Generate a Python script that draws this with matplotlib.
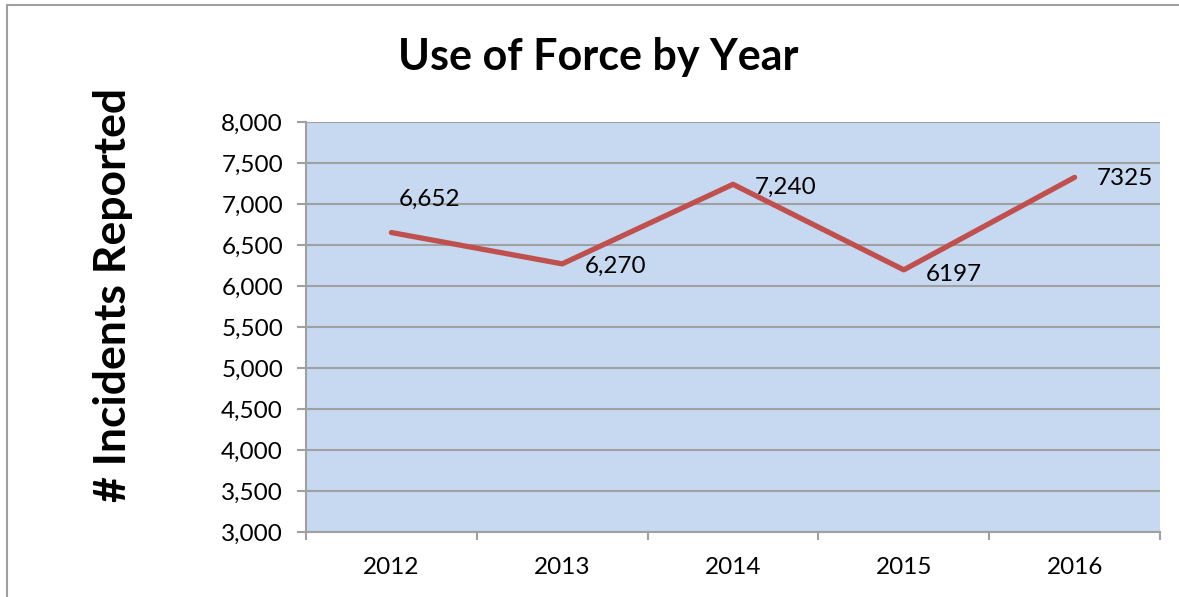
import matplotlib.pyplot as plt
from matplotlib.patches import Rectangle
from matplotlib.ticker import FuncFormatter, FixedLocator

years = ['2012', '2013', '2014', '2015', '2016']
incidents = [6652, 6270, 7240, 6197, 7325]
point_labels = ['6,652', '6,270', '7,240', '6197', '7325']

plt.rcParams['font.family'] = ['Lato', 'DejaVu Sans']

fig = plt.figure(figsize=(11.79, 5.97), dpi=100)
ax = fig.add_axes([306 / 1179, 65 / 597, 854 / 1179, 410 / 597])

# outer chart border (cut off at right/bottom like the screenshot)
fig.patches.append(Rectangle((7 / 1179, -0.1), 1.2, 1 - 5 / 597 + 0.1,
                             transform=fig.transFigure, fill=False,
                             edgecolor='#a0a0a0', linewidth=1.5))

ax.set_facecolor('#c6d9f1')
x = list(range(len(years)))
ax.plot(x, incidents, color='#c0504d', linewidth=3.8, solid_capstyle='round',
        zorder=3)

# data labels
offsets = [(5, 24), (16, -2), (16, -2), (16, -3), (16, -1)]
for xi, yi, lab, off in zip(x, incidents, point_labels, offsets):
    ax.annotate(lab, (xi, yi), xytext=off, textcoords='offset points',
                ha='left', va='center', fontsize=17.5, color='black')

ax.set_xlim(-0.5, len(years) - 0.5)
ax.set_ylim(3000, 8000)
ax.set_yticks(range(3000, 8001, 500))
ax.yaxis.set_major_formatter(FuncFormatter(lambda v, p: f'{int(v):,}'))
ax.set_xticks(x)
ax.set_xticklabels(years)
ax.xaxis.set_minor_locator(FixedLocator([i - 0.5 for i in range(len(years) + 1)]))

ax.tick_params(axis='x', which='major', length=0, pad=18, labelsize=17.5)
ax.tick_params(axis='x', which='minor', length=6, width=1.5, color='#a0a0a0')
ax.tick_params(axis='y', length=6.5, width=1.5, color='#a0a0a0', pad=10,
               labelsize=17.5)

ax.grid(axis='y', color='#a0a0a0', linewidth=1.5)
ax.set_axisbelow(True)
for side in ['top', 'right']:
    ax.spines[side].set_visible(False)
for side in ['left', 'bottom']:
    ax.spines[side].set_color('#a0a0a0')
    ax.spines[side].set_linewidth(1.5)

fig.text(598 / 1179, 1 - 57 / 597, 'Use of Force by Year', ha='center',
         va='center', fontsize=31, fontweight='bold')
fig.text(113 / 1179, 1 - 295 / 597, '# Incidents Reported', ha='center',
         va='center', rotation=90, fontsize=32, fontweight='bold')

fig.savefig('out.png', dpi=100)
